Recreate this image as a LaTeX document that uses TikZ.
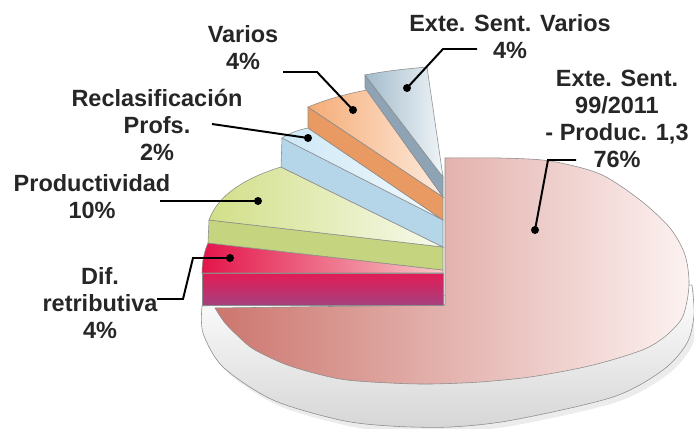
\documentclass[tikz,border=0pt]{standalone}
\usepackage{fontspec}
\setmainfont{Liberation Sans}
\usepackage{xcolor}
\usepackage{tikz}

\definecolor{labeltext}{HTML}{262626}
\definecolor{edgegray}{HTML}{8C8C8C}
\definecolor{bigL}{HTML}{CC766E}
\definecolor{bigM}{HTML}{E2AAA6}
\definecolor{bigR}{HTML}{FCF2F1}
\definecolor{redTL}{HTML}{E3154A}
\definecolor{redTR}{HTML}{F8C8C7}
\definecolor{redSt}{HTML}{E21C55}
\definecolor{redSb}{HTML}{A6407E}
\definecolor{greenTL}{HTML}{D2DF88}
\definecolor{greenTR}{HTML}{F7FAEC}
\definecolor{greenS}{HTML}{C5D47E}
\definecolor{lblueTL}{HTML}{CDE8F6}
\definecolor{lblueTR}{HTML}{F2F9FD}
\definecolor{lblueS}{HTML}{B5D6E9}
\definecolor{orangeTL}{HTML}{F5AC76}
\definecolor{orangeTR}{HTML}{FDEBDE}
\definecolor{orangeS}{HTML}{E89A62}
\definecolor{greyTL}{HTML}{A3BBCB}
\definecolor{greyTR}{HTML}{F0F5F8}
\definecolor{greyS}{HTML}{8EA3B3}

\begin{document}
\begin{tikzpicture}[x=0.025cm,y=-0.025cm]
    \tikzstyle{every node}=[font=\fontsize{16.7}{19.2}\selectfont\bfseries,text=labeltext,align=center,inner sep=0pt]
    \tikzstyle{edge}=[draw=edgegray,line width=0.4pt]
    \tikzstyle{leader}=[draw=black,line width=1.4pt]

    \useasboundingbox (0,0) rectangle (694,428);

    % big slice: body, side and top
    \fill[gray!30,opacity=0.5] plot[smooth] coordinates {(206,312) (207,338) (227,372) (277,405) (344,425) (394,432) (454,432) (517,425) (617,402) (667,375) (691,348) (698,318) (696,290)} -- cycle;
    \draw[edge,top color=white,bottom color=black!16] plot[smooth] coordinates {(202,306) (203,333) (223,367) (273,400) (340,420) (390,426) (450,427) (513,420) (613,397) (663,370) (687,343) (694,315) (692,285)} -- cycle;
    \draw[edge,left color=bigL,middle color=bigM,right color=bigR] (445,305) -- (445,158) -- plot[smooth] coordinates {(445,158) (500,158) (550,161) (600,174) (640,200) (670,228) (685,255) (689,285) (683,316) (668,334) (647,348) (615,359) (580,368) (530,377) (480,382) (430,384) (390,383) (340,379) (290,366) (255,350) (240,338) (225,323) (215,308)} -- cycle;

    % Dif. retributiva
    \draw[edge,top color=redSt,bottom color=redSb] (202,273) -- (443,273) -- (443,305) -- (202,305) -- cycle;
    \draw[edge,left color=redTL,right color=redTR] (443,270) -- (208,243) .. controls (204,252) and (202,262) .. (202,273) -- (443,273) -- cycle;

    % Productividad
    \draw[edge,fill=greenS] (209,220) -- (443,247) -- (443,270) -- (208,243) -- cycle;
    \draw[edge,left color=greenTL,right color=greenTR] (443,247) -- (281,167) .. controls (245,178) and (218,195) .. (209,220) -- cycle;

    % Reclasificacion
    \draw[edge,fill=lblueS] (282,138) -- (443,220) -- (443,247) -- (281,167) -- cycle;
    \draw[edge,left color=lblueTL,right color=lblueTR] (443,220) -- (308,128) .. controls (298,130) and (290,133) .. (282,138) -- cycle;

    % Varios
    \draw[edge,fill=orangeS] (308,107) -- (443,197) -- (443,220) -- (308,128) -- cycle;
    \draw[edge,left color=orangeTL,right color=orangeTR] (308,107) .. controls (325,100) and (345,94) .. (367,90) -- (443,197) -- cycle;

    % Exte. Sent. Varios
    \draw[edge,fill=greyS] (365,75) -- (443,177) -- (443,197) -- (365,88) -- cycle;
    \draw[edge,left color=greyTL,right color=greyTR] (365,75) .. controls (385,71) and (405,69) .. (427,67) -- (443,177) -- cycle;

    % labels
    \node (evarios) at (510,37) {Exte. Sent. Varios\\4\%};
    \node (extesent) at (617,119) {Exte. Sent.\\99/2011\\- Produc. 1,3\\76\%};
    \node (varios) at (243,48) {Varios\\4\%};
    \node (reclasif) at (157,125) {Reclasificación\\Profs.\\2\%};
    \node (productiv) at (92,197) {Productividad\\10\%};
    \node (difretrib) at (100,303) {Dif.\\retributiva\\4\%};

    % leader lines
    \coordinate (dEvar) at (407,88);   \coordinate (kEvar) at (443,49);  \coordinate (eEvar) at (477,49);
    \coordinate (dExte) at (535,230);  \coordinate (kExte) at (548,160); \coordinate (eExte) at (576,160);
    \coordinate (dVar) at (353,110);   \coordinate (kVar) at (317,72);   \coordinate (eVar) at (283,72);
    \coordinate (dRec) at (308,138);   \coordinate (eRec) at (212,124);
    \coordinate (dProd) at (258,201);  \coordinate (eProd) at (160,201);
    \coordinate (dDif) at (230,258);   \coordinate (kDif) at (193,258);  \coordinate (lDif) at (183,299); \coordinate (eDif) at (157,299);

    \newcommand{\leaderdot}[1]{\fill[black] (#1) circle (0.1cm);}

    \draw[leader] (dEvar) -- (kEvar) -- (eEvar);
    \draw[leader] (dExte) -- (kExte) -- (eExte);
    \draw[leader] (dVar) -- (kVar) -- (eVar);
    \draw[leader] (dRec) -- (eRec);
    \draw[leader] (dProd) -- (eProd);
    \draw[leader] (dDif) -- (kDif) -- (lDif) -- (eDif);
    \foreach \d in {dEvar,dExte,dVar,dRec,dProd,dDif}{\leaderdot{\d}}

\end{tikzpicture}
\end{document}
